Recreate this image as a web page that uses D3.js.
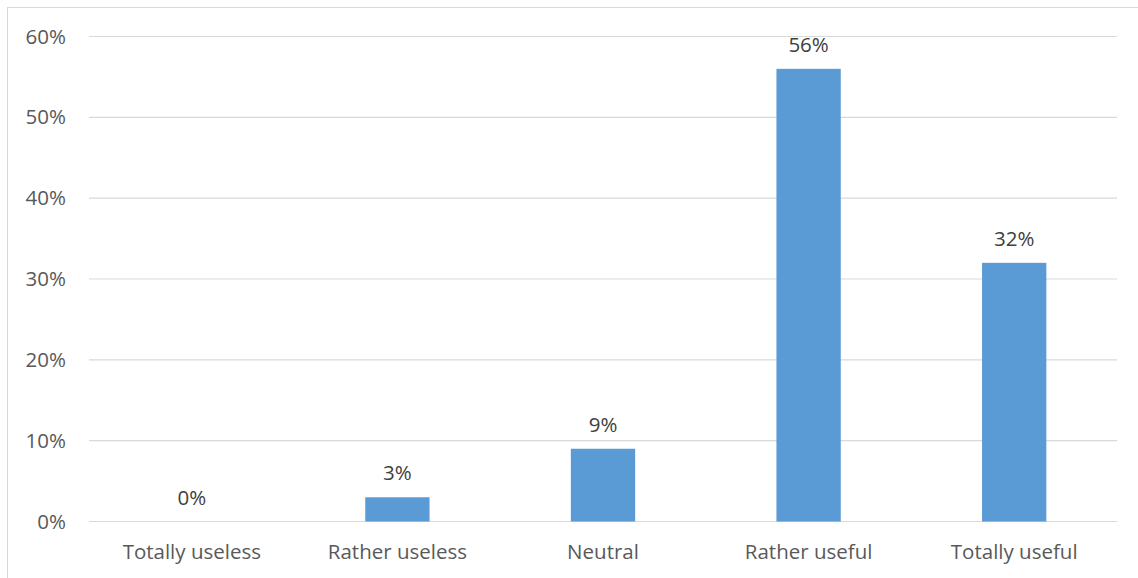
<!DOCTYPE html>
<html>
<head>
<meta charset="utf-8">
<script src="https://cdn.jsdelivr.net/npm/d3@7"></script>
<style>
  html, body { margin: 0; padding: 0; background: #fff; }
  svg { display: block; }
  text { font-family: "Open Sans", "Noto Sans", sans-serif; }
</style>
</head>
<body>
<svg id="chart" width="1138" height="578"></svg>
<script>
const categories = ["Totally useless", "Rather useless", "Neutral", "Rather useful", "Totally useful"];
const values = [0, 3, 9, 56, 32];
const yTicks = [0, 10, 20, 30, 40, 50, 60];

const W = 1138, H = 578;
const margin = { left: 89, right: 21, top: 36.5, bottom: 56.5 };
const FS = "20.5px";
const svg = d3.select("#chart");

// outer border (chart area frame)
svg.append("rect")
  .attr("x", 7.5).attr("y", 7.5)
  .attr("width", W + 10).attr("height", H + 10)
  .attr("fill", "none").attr("stroke", "#D9D9D9").attr("stroke-width", 1);

const x = d3.scaleBand()
  .domain(categories)
  .range([margin.left, W - margin.right])
  .paddingInner(0.6872).paddingOuter(0.3436);

const y = d3.scaleLinear()
  .domain([0, 60])
  .range([H - margin.bottom, margin.top]);

// gridlines
svg.append("g")
  .selectAll("line")
  .data(yTicks)
  .join("line")
  .attr("x1", margin.left).attr("x2", W - margin.right)
  .attr("y1", d => y(d)).attr("y2", d => y(d))
  .attr("stroke", "#D9D9D9").attr("stroke-width", 1.2);

// y axis labels
const yAxis = d3.axisLeft(y).tickValues(yTicks).tickFormat(d => d + "%").tickSize(0).tickPadding(23);
const gy = svg.append("g").attr("transform", `translate(${margin.left},0)`).call(yAxis);
gy.select(".domain").remove();
gy.selectAll("text").attr("fill", "#595959").style("font-size", FS)
  .style("font-family", '"Open Sans", sans-serif');

// x axis labels
const xAxis = d3.axisBottom(x).tickSize(0).tickPadding(23);
const gx = svg.append("g").attr("transform", `translate(0,${y(0)})`).call(xAxis);
gx.select(".domain").remove();
gx.selectAll("text").attr("fill", "#595959").style("font-size", FS)
  .style("font-family", '"Open Sans", sans-serif');

// bars
svg.append("g")
  .selectAll("rect")
  .data(values)
  .join("rect")
  .attr("x", (d, i) => x(categories[i]))
  .attr("width", x.bandwidth())
  .attr("y", d => y(d))
  .attr("height", d => y(0) - y(d))
  .attr("fill", "#5B9BD5");

// data labels
svg.append("g")
  .selectAll("text")
  .data(values)
  .join("text")
  .attr("x", (d, i) => x(categories[i]) + x.bandwidth() / 2)
  .attr("y", d => y(d) - 17)
  .attr("text-anchor", "middle")
  .attr("fill", "#404040")
  .style("font-size", FS)
  .text(d => d + "%");
</script>
</body>
</html>
